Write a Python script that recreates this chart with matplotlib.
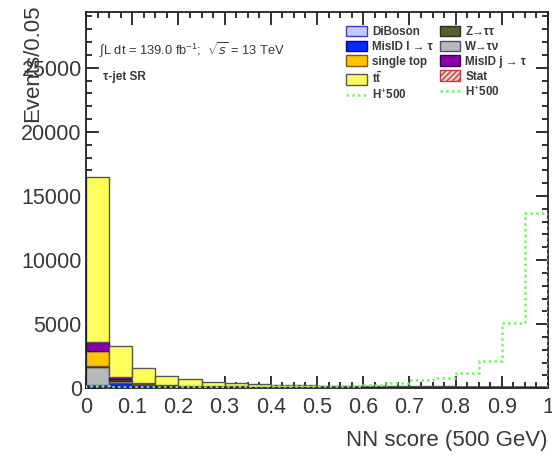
import numpy as np
import matplotlib
matplotlib.use("Agg")
import matplotlib.pyplot as plt
from matplotlib.patches import Patch
from matplotlib.lines import Line2D
from matplotlib.ticker import MultipleLocator

plt.rcParams['font.family'] = ['Liberation Sans', 'DejaVu Sans']
plt.rcParams['mathtext.fontset'] = 'custom'
plt.rcParams['mathtext.rm'] = 'Liberation Sans'
plt.rcParams['mathtext.bf'] = 'Liberation Sans:bold'

# NN score binning: 20 bins of width 0.05
bin_edges = np.linspace(0.0, 1.0, 21)

# Background yields per bin (events / 0.05)
diboson = [40, 20, 15, 10, 8, 6, 5, 5, 4, 4, 3, 3, 3, 3, 3, 3, 2, 2, 2, 2]
misid_l = [200, 400, 280, 170, 130, 110, 100, 95, 90, 85, 80, 78, 75, 72, 70, 68, 66, 64, 62, 60]
w_taunu = [1440, 150, 40, 20, 15, 10, 8, 6, 5, 4, 4, 3, 3, 3, 3, 3, 3, 3, 3, 3]
z_tautau = [60, 130, 30, 20, 15, 10, 8, 6, 5, 4, 4, 3, 3, 3, 3, 3, 3, 3, 3, 3]
single_top = [1190, 50, 25, 15, 12, 10, 8, 6, 5, 4, 4, 3, 3, 3, 3, 2, 2, 2, 2, 2]
misid_j = [700, 150, 60, 30, 25, 18, 14, 12, 10, 9, 8, 7, 6, 6, 5, 5, 5, 5, 5, 5]
ttbar = [12850, 2400, 1110, 675, 495, 356, 257, 190, 141, 120, 97, 88, 80, 72, 66, 60, 55, 50, 45, 40]

# Signal H+ (500 GeV)
signal = [150, 130, 110, 110, 120, 130, 140, 150, 160, 170, 190, 210, 260, 440, 650, 780, 1170, 2150, 5120, 13650]

bkg_names = ["DiBoson", "MisID l \u2192 \u03c4", "W\u2192\u03c4\u03bd", "Z\u2192\u03c4\u03c4",
             "single top", "MisID j \u2192 \u03c4", r"$\mathbf{t\bar{t}}$"]
bkg_values = [diboson, misid_l, w_taunu, z_tautau, single_top, misid_j, ttbar]
bkg_faces = ["#c8c8f8", "#0a28ff", "#b9b9bd", "#56602c", "#ffc400", "#8a00a8", "#ffff5c"]
bkg_edges = ["#3c3cc0", "#000a80", "#50506a", "#2c2c20", "#7a5a00", "#3c0050", "#55555a"]

fig = plt.figure(figsize=(5.52, 4.55), dpi=100)
ax = fig.add_axes([86 / 552, 1 - 388.3 / 455, 462 / 552, 376.3 / 455])

width = np.diff(bin_edges)
left = bin_edges[:-1]
bottom = np.zeros(len(left))
handles = {}
for name, vals, fc, ec in zip(bkg_names, bkg_values, bkg_faces, bkg_edges):
    vals = np.asarray(vals, dtype=float)
    ax.bar(left, vals, width=width, bottom=bottom, align='edge',
           color=fc, edgecolor=ec, linewidth=1.0, zorder=2)
    handles[name] = Patch(facecolor=fc, edgecolor=ec, linewidth=1.0)
    bottom = bottom + vals

stat_handle = Patch(facecolor='#f3d0d0', edgecolor='#c04040', hatch='//////', linewidth=1.0)

# Signal histogram outline
sig_color = '#78f068'
ax.stairs(signal, bin_edges, color=sig_color, linestyle=(0, (1.0, 1.3)),
          linewidth=1.8, zorder=4)
sig_handle = Line2D([], [], color=sig_color, linestyle=(0, (1.0, 1.3)), linewidth=1.8)

ax.set_xlim(0, 1)
ax.set_ylim(0, 29350)

txt_color = '#383838'
ax.xaxis.set_major_locator(MultipleLocator(0.1))
ax.xaxis.set_minor_locator(MultipleLocator(0.025))
ax.yaxis.set_major_locator(MultipleLocator(5000))
ax.yaxis.set_minor_locator(MultipleLocator(1000))
ax.set_xticks(np.round(np.arange(0, 1.01, 0.1), 1))
ax.set_xticklabels(["0", "0.1", "0.2", "0.3", "0.4", "0.5", "0.6", "0.7", "0.8", "0.9", "1"])
ax.tick_params(which='both', direction='in', top=True, right=True, colors='#222222',
               labelcolor=txt_color, labelsize=15.5, width=1.3)
ax.tick_params(which='major', length=9)
ax.tick_params(which='minor', length=4.5)
ax.tick_params(axis='x', which='major', pad=6)
ax.tick_params(axis='y', which='major', pad=3)
for sp in ax.spines.values():
    sp.set_linewidth(1.3)
    sp.set_color('#222222')

ax.set_ylabel("Events/0.05", fontsize=16, color=txt_color, loc='top')
ax.yaxis.set_label_coords(-0.092, 1.019)
ax.set_xlabel("NN score (500 GeV)", fontsize=16, color=txt_color, loc='right')
ax.xaxis.set_label_coords(1.0, -0.112)

ax.text(0.028, 0.899, r"$\int$L dt = 139.0 fb$^{-1}$;  $\sqrt{s}$ = 13 TeV",
        transform=ax.transAxes, fontsize=9.3, color=txt_color, va='center', ha='left')
ax.text(0.037, 0.827, "\u03c4-jet SR", transform=ax.transAxes, fontsize=8.5,
        fontweight='bold', color=txt_color, va='center', ha='left')

# Legend laid out in two columns (filled column by column)
leg_handles = [handles["DiBoson"], handles["MisID l \u2192 \u03c4"], handles["single top"],
               handles[r"$\mathbf{t\bar{t}}$"], sig_handle,
               handles["Z\u2192\u03c4\u03c4"], handles["W\u2192\u03c4\u03bd"],
               handles["MisID j \u2192 \u03c4"], stat_handle, sig_handle]
leg_labels = ["DiBoson", "MisID l \u2192 \u03c4", "single top", r"$\mathbf{t\bar{t}}$", "H$^{+}$500",
              "Z\u2192\u03c4\u03c4", "W\u2192\u03c4\u03bd", "MisID j \u2192 \u03c4", "Stat", "H$^{+}$500"]
leg = ax.legend(leg_handles, leg_labels, ncol=2, loc='upper left',
                bbox_to_anchor=(0.563, 0.964), frameon=False,
                prop={'size': 8.4, 'weight': 'bold'}, handlelength=1.75,
                handleheight=1.05, handletextpad=0.45, labelspacing=0.22,
                columnspacing=0.6, borderpad=0, borderaxespad=0)
for t in leg.get_texts():
    t.set_color(txt_color)

fig.savefig("out.png", dpi=100)
